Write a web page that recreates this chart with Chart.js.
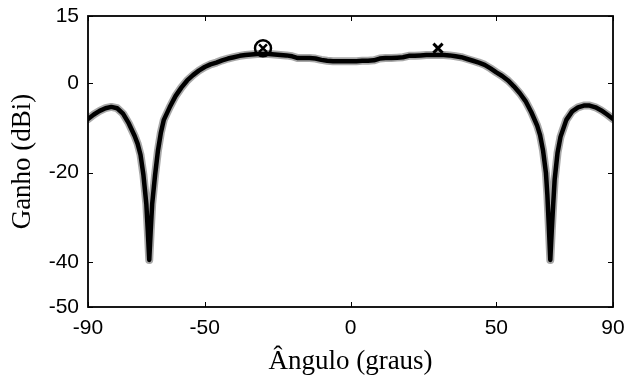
<!DOCTYPE html>
<html>
<head>
<meta charset="utf-8">
<script src="https://cdn.jsdelivr.net/npm/chart.js@4.4.1/dist/chart.umd.min.js"></script>
<style>
html,body{margin:0;padding:0;background:#fff;}
#wrap{width:627px;height:379px;position:relative;}
</style>
</head>
<body>
<div id="wrap"><canvas id="c" width="627" height="379"></canvas></div>
<script>
// ---- data ----
const angles = [-90,-88,-86,-84,-82,-80,-78,-76,-74,-73,-72,-71,-70,-69.5,-69,-68.5,-68,-67,-66,-65,-64,-62,-60,-58,-56,-54,-52,-50,-48,-46,-44,-42,-40,-38,-36,-34,-32,-30,-28,-26,-24,-22,-20,-18,-16,-14,-12,-10,-8,-6,-4,-2,0,2,4,6,8,10,12,14,16,18,20,22,24,26,28,30,32,34,36,38,40,42,44,46,48,50,52,54,56,58,60,62,64,65,66,67,67.5,68,68.5,69,69.5,70,71,72,74,76,78,80,82,84,86,88,90];
const gain = [-8.0,-7.0,-6.2,-5.6,-5.3,-5.6,-6.8,-9.0,-11.8,-13.5,-16.0,-20.5,-27,-33,-39.5,-33,-27,-20.5,-15,-11,-8.2,-5.4,-2.9,-1.0,0.6,1.8,2.8,3.6,4.2,4.6,5.1,5.5,5.8,6.1,6.3,6.4,6.5,6.5,6.5,6.4,6.3,6.2,6.0,5.6,5.6,5.6,5.5,5.2,5.0,4.9,4.9,4.9,4.9,4.9,5.0,5.0,5.1,5.5,5.6,5.6,5.7,5.8,6.1,6.1,6.2,6.3,6.3,6.3,6.3,6.2,6.0,5.8,5.4,5.0,4.6,4.1,3.3,2.4,1.6,0.6,-0.7,-2.2,-4.0,-6.5,-9.5,-11.6,-15,-20,-25,-32,-39.5,-33,-27,-21.5,-15.5,-12,-8.2,-6.3,-5.4,-5.0,-5.0,-5.4,-6.1,-7.0,-8.0];
const circleMarker = {angle: [-30], gain: [7.8]};
const crossMarker = {angle: [30], gain: [7.8]};
const xTicks = [-90,-50,0,50,90];
const yTicks = [-50,-40,-20,0,15];
const xTitle = 'Ângulo (graus)';
const yTitle = 'Ganho (dBi)';

const curve = angles.map((a,i)=>({x:a,y:gain[i]}));
const pts = (m)=>m.angle.map((a,i)=>({x:a,y:m.gain[i]}));

const boxPlugin = {
  id:'box',
  afterDatasetsDraw(chart){
    const {ctx, chartArea:ca, scales} = chart;
    ctx.save();
    ctx.strokeStyle='#000';
    ctx.lineWidth=1.8;
    ctx.strokeRect(ca.left, ca.top, ca.right-ca.left, ca.bottom-ca.top);
    ctx.lineWidth=1;
    const tl=5;
    ctx.beginPath();
    xTicks.forEach(v=>{
      const px=Math.round(scales.x.getPixelForValue(v))+0.5;
      ctx.moveTo(px,ca.bottom); ctx.lineTo(px,ca.bottom-tl);
      ctx.moveTo(px,ca.top); ctx.lineTo(px,ca.top+tl);
    });
    yTicks.forEach(v=>{
      const py=Math.round(scales.y.getPixelForValue(v))+0.5;
      ctx.moveTo(ca.left,py); ctx.lineTo(ca.left+tl,py);
      ctx.moveTo(ca.right,py); ctx.lineTo(ca.right-tl,py);
    });
    ctx.stroke();
    ctx.restore();
  }
};

const noPad = (s)=>{s.paddingTop=0;s.paddingBottom=0;s.paddingLeft=0;s.paddingRight=0;};

new Chart(document.getElementById('c'), {
  type:'scatter',
  data:{datasets:[
    {data:pts(circleMarker), pointStyle:'circle', pointRadius:8, borderColor:'#000', backgroundColor:'rgba(0,0,0,0)', borderWidth:2.5, showLine:false, order:0},
    {data:pts(circleMarker), pointStyle:'crossRot', pointRadius:5.5, borderColor:'#000', borderWidth:2.5, showLine:false, order:0},
    {data:pts(crossMarker), pointStyle:'crossRot', pointRadius:6.5, borderColor:'#000', borderWidth:3, showLine:false, order:0},
    {data:curve, showLine:true, borderColor:'#000', borderWidth:4.5, pointRadius:0, tension:0, borderJoinStyle:'round', borderCapStyle:'round', order:1},
    {data:curve, showLine:true, borderColor:'#a8a8a8', borderWidth:8, pointRadius:0, tension:0, borderJoinStyle:'round', borderCapStyle:'round', order:2}
  ]},
  options:{
    responsive:false, animation:false, devicePixelRatio:1,
    layout:{padding:{top:16,right:14,left:0,bottom:0}},
    plugins:{legend:{display:false}, tooltip:{enabled:false}},
    scales:{
      x:{type:'linear', min:-90, max:90,
        afterBuildTicks:(s)=>{s.ticks=xTicks.map(v=>({value:v}));},
        afterFit:(s)=>{s.height=72; noPad(s);},
        grid:{display:false, drawTicks:false}, border:{display:false},
        ticks:{color:'#000', padding:9, maxRotation:0, autoSkip:false, font:{family:'Liberation Sans', size:21}},
        title:{display:true, text:xTitle, color:'#000', font:{family:'Liberation Serif', size:27}, padding:{top:0,bottom:1}}
      },
      y:{type:'linear', min:-50, max:15,
        afterBuildTicks:(s)=>{s.ticks=yTicks.map(v=>({value:v}));},
        afterFit:(s)=>{s.width=88; noPad(s);},
        grid:{display:false, drawTicks:false}, border:{display:false},
        ticks:{color:'#000', padding:9, autoSkip:false, font:{family:'Liberation Sans', size:21}},
        title:{display:true, text:yTitle, color:'#000', font:{family:'Liberation Serif', size:27}, padding:{top:7,bottom:0}}
      }
    }
  },
  plugins:[boxPlugin]
});
</script>
</body>
</html>
